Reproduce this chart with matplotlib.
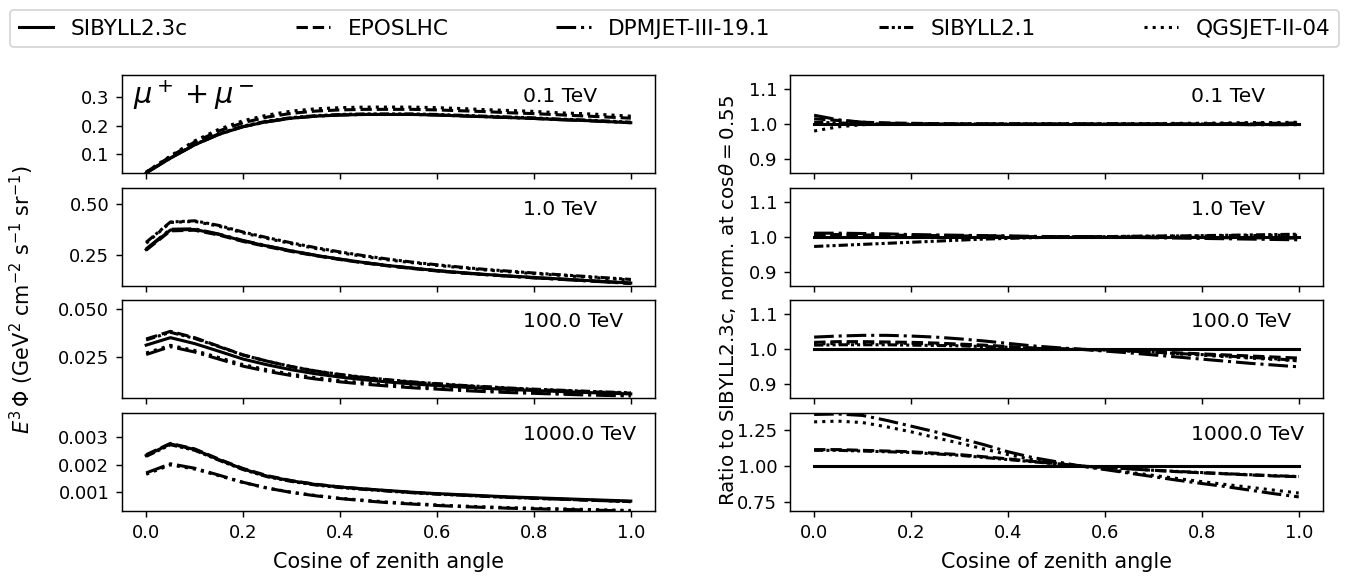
import numpy as np
import matplotlib
matplotlib.use("Agg")
import matplotlib.pyplot as plt

# Cosine of zenith angle grid
cos_theta = [0.00, 0.05, 0.10, 0.15, 0.20, 0.25, 0.30, 0.35, 0.40, 0.45, 0.50,
             0.55, 0.60, 0.65, 0.70, 0.75, 0.80, 0.85, 0.90, 0.95, 1.00]

models = ["SIBYLL2.3c", "EPOSLHC", "DPMJET-III-19.1", "SIBYLL2.1", "QGSJET-II-04"]
energies = ["0.1 TeV", "1.0 TeV", "100.0 TeV", "1000.0 TeV"]

# E^3 * flux (GeV^2 cm^-2 s^-1 sr^-1), muons + antimuons
flux_0p1 = {
    "SIBYLL2.3c":      [.033, .085, .132, .169, .196, .214, .226, .233, .237, .239, .239, .239, .237, .234, .231, .228, .225, .221, .218, .214, .210],
    "EPOSLHC":         [.036, .091, .142, .181, .210, .230, .243, .251, .255, .257, .257, .257, .255, .252, .249, .245, .242, .238, .234, .230, .226],
    "DPMJET-III-19.1": [.034, .086, .132, .169, .196, .213, .226, .233, .237, .239, .239, .239, .237, .234, .231, .228, .225, .221, .218, .214, .210],
    "SIBYLL2.1":       [.034, .086, .133, .171, .198, .216, .228, .235, .239, .241, .241, .241, .239, .236, .233, .230, .227, .223, .220, .216, .212],
    "QGSJET-II-04":    [.036, .093, .146, .187, .217, .237, .251, .259, .263, .265, .265, .265, .263, .260, .256, .253, .250, .245, .242, .238, .233],
}
flux_1 = {
    "SIBYLL2.3c":      [.275, .372, .375, .350, .318, .292, .268, .246, .227, .210, .195, .182, .170, .160, .151, .143, .136, .129, .122, .115, .108],
    "EPOSLHC":         [.272, .368, .371, .347, .315, .289, .265, .244, .225, .208, .193, .180, .168, .158, .150, .142, .134, .128, .121, .114, .107],
    "DPMJET-III-19.1": [.278, .376, .378, .352, .320, .293, .268, .246, .227, .210, .195, .182, .170, .159, .150, .142, .134, .127, .120, .113, .106],
    "SIBYLL2.1":       [.311, .412, .418, .395, .362, .334, .308, .284, .263, .244, .227, .212, .199, .187, .176, .167, .158, .150, .142, .134, .126],
    "QGSJET-II-04":    [.306, .410, .415, .391, .358, .330, .304, .280, .259, .240, .223, .209, .196, .184, .173, .164, .155, .147, .139, .131, .123],
}
flux_100 = {
    "SIBYLL2.3c":      [.0313, .0352, .0321, .0281, .0240, .0210, .0184, .0163, .0146, .0132, .0120, .0110, .0102, .0094, .0087, .0081, .0076, .0071, .0066, .0062, .0058],
    "EPOSLHC":         [.0345, .0385, .0352, .0307, .0262, .0229, .0200, .0177, .0158, .0143, .0130, .0119, .0110, .0101, .0094, .0087, .0081, .0076, .0071, .0066, .0062],
    "DPMJET-III-19.1": [.0264, .0305, .0277, .0240, .0203, .0176, .0154, .0136, .0121, .0109, .0099, .0090, .0083, .0076, .0070, .0065, .0061, .0057, .0053, .0050, .0047],
    "SIBYLL2.1":       [.0340, .0380, .0348, .0305, .0261, .0229, .0201, .0178, .0160, .0145, .0132, .0121, .0112, .0103, .0096, .0089, .0083, .0078, .0073, .0068, .0064],
    "QGSJET-II-04":    [.0272, .0312, .0285, .0248, .0211, .0184, .0161, .0143, .0128, .0116, .0105, .0096, .0089, .0082, .0076, .0071, .0066, .0062, .0058, .0055, .0052],
}
flux_1000 = {
    "SIBYLL2.3c":      [.00233, .00275, .00255, .00218, .00184, .00158, .00141, .00128, .00119, .00112, .00106, .00100, .00095, .00091, .00087, .00083, .00080, .00077, .00074, .00071, .00068],
    "EPOSLHC":         [.00236, .00277, .00257, .00220, .00186, .00160, .00142, .00129, .00119, .00112, .00105, .00099, .00094, .00090, .00085, .00082, .00078, .00075, .00072, .00069, .00066],
    "DPMJET-III-19.1": [.00170, .00203, .00187, .00162, .00136, .00115, .00099, .00087, .00077, .00069, .00062, .00057, .00052, .00048, .00045, .00042, .00040, .00038, .00036, .00034, .00032],
    "SIBYLL2.1":       [.00230, .00272, .00252, .00216, .00182, .00156, .00139, .00126, .00117, .00110, .00104, .00098, .00093, .00089, .00085, .00081, .00078, .00075, .00072, .00069, .00066],
    "QGSJET-II-04":    [.00165, .00199, .00184, .00160, .00135, .00115, .00100, .00088, .00078, .00071, .00064, .00059, .00054, .00050, .00047, .00044, .00042, .00040, .00038, .00036, .00034],
}

# Ratio to SIBYLL2.3c, each model normalised at cos(theta) = 0.55
ratio_0p1 = {
    "SIBYLL2.3c":      [1.0] * 21,
    "EPOSLHC":         [1.015, 1.010, 1.005, 1.003, 1.002, 1.001, 1.0, 1.0, 1.0, 1.0, 1.0, 1.0, 1.0, 1.0, 1.0, 1.0, 1.0, 1.001, 1.002, 1.002, 1.003],
    "DPMJET-III-19.1": [1.025, 1.012, 1.005, 1.002, 1.001, 1.0, 1.0, 1.0, 1.0, 1.0, 1.0, 1.0, 1.0, 1.0, 1.0, 1.0, 0.999, 0.999, 0.998, 0.998, 0.998],
    "SIBYLL2.1":       [1.005, 1.003, 1.001, 1.0, 1.0, 1.0, 1.0, 1.0, 1.0, 1.0, 1.0, 1.0, 1.0, 1.0, 1.0, 1.0, 1.0, 1.0, 1.0, 1.0, 1.0],
    "QGSJET-II-04":    [0.980, 0.992, 0.998, 1.0, 1.0, 1.0, 1.0, 1.0, 1.0, 1.0, 1.0, 1.0, 1.0, 1.001, 1.001, 1.002, 1.002, 1.003, 1.004, 1.004, 1.005],
}
ratio_1 = {
    "SIBYLL2.3c":      [1.0] * 21,
    "EPOSLHC":         [1.006, 1.006, 1.005, 1.004, 1.004, 1.003, 1.002, 1.002, 1.001, 1.0, 1.0, 1.0, 1.0, 0.999, 0.999, 0.998, 0.998, 0.997, 0.997, 0.996, 0.996],
    "DPMJET-III-19.1": [1.010, 1.010, 1.009, 1.008, 1.006, 1.005, 1.004, 1.003, 1.002, 1.001, 1.0, 1.0, 0.999, 0.998, 0.997, 0.996, 0.995, 0.994, 0.993, 0.992, 0.991],
    "SIBYLL2.1":       [0.972, 0.975, 0.978, 0.981, 0.984, 0.987, 0.990, 0.993, 0.995, 0.997, 0.999, 1.0, 1.0, 1.001, 1.002, 1.002, 1.003, 1.004, 1.005, 1.006, 1.007],
    "QGSJET-II-04":    [1.003, 1.004, 1.004, 1.003, 1.003, 1.002, 1.002, 1.001, 1.001, 1.0, 1.0, 1.0, 1.0, 1.001, 1.001, 1.002, 1.002, 1.003, 1.003, 1.004, 1.004],
}
ratio_100 = {
    "SIBYLL2.3c":      [1.0] * 21,
    "EPOSLHC":         [1.020, 1.022, 1.022, 1.021, 1.020, 1.018, 1.015, 1.012, 1.008, 1.004, 1.002, 1.0, 0.998, 0.996, 0.993, 0.990, 0.987, 0.984, 0.981, 0.978, 0.975],
    "DPMJET-III-19.1": [1.035, 1.038, 1.040, 1.040, 1.038, 1.035, 1.030, 1.024, 1.017, 1.010, 1.005, 1.0, 0.995, 0.990, 0.984, 0.978, 0.972, 0.966, 0.960, 0.955, 0.950],
    "SIBYLL2.1":       [1.012, 1.013, 1.013, 1.013, 1.012, 1.011, 1.010, 1.008, 1.006, 1.003, 1.001, 1.0, 0.998, 0.995, 0.992, 0.988, 0.985, 0.981, 0.977, 0.973, 0.968],
    "QGSJET-II-04":    [1.015, 1.017, 1.018, 1.018, 1.017, 1.015, 1.013, 1.010, 1.007, 1.004, 1.002, 1.0, 0.998, 0.995, 0.991, 0.987, 0.983, 0.979, 0.975, 0.971, 0.967],
}
ratio_1000 = {
    "SIBYLL2.3c":      [1.0] * 21,
    "EPOSLHC":         [1.115, 1.115, 1.110, 1.105, 1.100, 1.090, 1.080, 1.065, 1.050, 1.033, 1.016, 1.0, 0.990, 0.980, 0.970, 0.960, 0.952, 0.945, 0.937, 0.930, 0.925],
    "DPMJET-III-19.1": [1.362, 1.365, 1.355, 1.320, 1.280, 1.240, 1.195, 1.150, 1.100, 1.060, 1.030, 1.0, 0.975, 0.950, 0.925, 0.900, 0.877, 0.855, 0.830, 0.805, 0.783],
    "SIBYLL2.1":       [1.110, 1.110, 1.105, 1.100, 1.095, 1.085, 1.075, 1.060, 1.045, 1.030, 1.015, 1.0, 0.990, 0.980, 0.970, 0.962, 0.954, 0.946, 0.939, 0.932, 0.926],
    "QGSJET-II-04":    [1.310, 1.315, 1.305, 1.275, 1.240, 1.200, 1.160, 1.120, 1.080, 1.045, 1.020, 1.0, 0.978, 0.956, 0.934, 0.912, 0.890, 0.870, 0.850, 0.830, 0.810],
}

fluxes = [flux_0p1, flux_1, flux_100, flux_1000]
ratios = [ratio_0p1, ratio_1, ratio_100, ratio_1000]

flux_ticks = [[0.1, 0.2, 0.3], [0.25, 0.50], [0.025, 0.050], [0.001, 0.002, 0.003]]
flux_ylims = [(0.033, 0.378), (0.095, 0.583), (0.0035, 0.0547), (0.00032, 0.00387)]
ratio_ticks = [[0.9, 1.0, 1.1], [0.9, 1.0, 1.1], [0.9, 1.0, 1.1], [0.75, 1.00, 1.25]]
ratio_ylims = [(0.86, 1.14), (0.86, 1.14), (0.86, 1.14), (0.684, 1.372)]

styles = {
    "SIBYLL2.3c": "-",
    "EPOSLHC": "--",
    "DPMJET-III-19.1": "-.",
    "SIBYLL2.1": (0, (3, 1, 1, 1, 1, 1)),
    "QGSJET-II-04": ":",
}

plt.rcParams["font.family"] = ["DejaVu Sans"]
plt.rcParams["font.size"] = 10

dpi = 130
fig, axes = plt.subplots(
    4, 2, figsize=(1349 / dpi, 577 / dpi), dpi=dpi, sharex=True,
    gridspec_kw=dict(left=0.0904, right=0.9807, top=1 - 75 / 577,
                     bottom=1 - 511 / 577, hspace=0.15, wspace=0.253),
)

lw = 1.7
for row in range(4):
    axf = axes[row, 0]
    axr = axes[row, 1]
    for m in models:
        axf.plot(cos_theta, fluxes[row][m], color="k", lw=lw, ls=styles[m], label=m)
        axr.plot(cos_theta, ratios[row][m], color="k", lw=lw, ls=styles[m])
    axf.set_ylim(*flux_ylims[row])
    axf.set_yticks(flux_ticks[row])
    axr.set_ylim(*ratio_ylims[row])
    axr.set_yticks(ratio_ticks[row])
    for ax in (axf, axr):
        ax.set_xlim(-0.05, 1.05)
        ax.set_xticks([0.0, 0.2, 0.4, 0.6, 0.8, 1.0])
        ax.text(0.752, 0.78, energies[row], transform=ax.transAxes,
                ha="left", va="center", fontsize=11.2)

axes[0, 0].text(0.02, 0.79, r"$\mu^+ + \mu^-$", transform=axes[0, 0].transAxes,
                ha="left", va="center", fontsize=16)

axes[3, 0].set_xlabel("Cosine of zenith angle", fontsize=11.5, labelpad=6)
axes[3, 1].set_xlabel("Cosine of zenith angle", fontsize=11.5, labelpad=6)

label_y = 1 - 300 / 577
fig.text(22 / 1349, label_y, r"$E^3\,\Phi$ (GeV$^2$ cm$^{-2}$ s$^{-1}$ sr$^{-1}$)",
         rotation=90, ha="center", va="center", fontsize=11.5)
fig.text(728 / 1349, label_y, r"Ratio to SIBYLL2.3c, norm. at cos$\theta = 0.55$",
         rotation=90, ha="center", va="center", fontsize=11)

handles, labels = axes[0, 0].get_legend_handles_labels()
fig.legend(handles, labels, loc="upper left", ncol=5, mode="expand",
           bbox_to_anchor=(10 / 1349, 1 - 10 / 577, 1329 / 1349, 0),
           borderaxespad=0.0, fontsize=12, handlelength=1.6)

fig.savefig("out.png", dpi=dpi)
